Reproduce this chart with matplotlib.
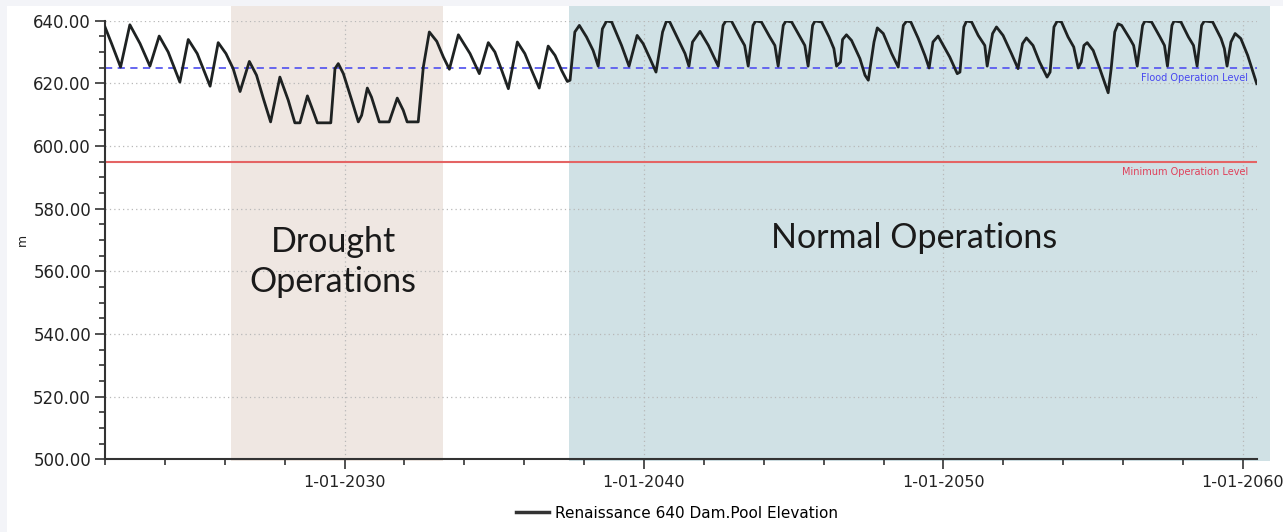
import matplotlib
matplotlib.use("Agg")
import matplotlib.pyplot as plt
from matplotlib.patches import Rectangle
from matplotlib.lines import Line2D
from matplotlib.ticker import MultipleLocator, FormatStrFormatter

# Pool elevation (decimal year, metres)
years = [
    2022.00, 2022.22, 2022.52, 2022.83, 2023.17, 2023.50, 2023.81, 2024.11, 2024.50, 2024.78,
    2025.08, 2025.51, 2025.78, 2026.04, 2026.28, 2026.51, 2026.82, 2027.06, 2027.29, 2027.53,
    2027.84, 2028.12, 2028.34, 2028.51, 2028.76, 2028.96, 2029.09, 2029.54, 2029.68, 2029.79,
    2029.96, 2030.24, 2030.46, 2030.57, 2030.76, 2030.90, 2031.16, 2031.49, 2031.76, 2031.96,
    2032.09, 2032.46, 2032.63, 2032.83, 2033.08, 2033.30, 2033.50, 2033.80, 2034.19, 2034.50,
    2034.80, 2035.02, 2035.25, 2035.47, 2035.77, 2036.02, 2036.25, 2036.50, 2036.80, 2037.03,
    2037.25, 2037.44, 2037.53, 2037.69, 2037.84, 2038.08, 2038.30, 2038.47, 2038.61, 2038.75,
    2038.92, 2039.25, 2039.50, 2039.77, 2039.97, 2040.20, 2040.40, 2040.62, 2040.75, 2040.86,
    2041.37, 2041.50, 2041.62, 2041.87, 2042.15, 2042.48, 2042.64, 2042.73, 2042.92, 2043.20,
    2043.36, 2043.48, 2043.64, 2043.73, 2043.92, 2044.20, 2044.37, 2044.48, 2044.65, 2044.74,
    2044.93, 2045.21, 2045.37, 2045.48, 2045.63, 2045.71, 2045.93, 2046.18, 2046.34, 2046.43,
    2046.56, 2046.63, 2046.76, 2046.93, 2047.21, 2047.38, 2047.49, 2047.68, 2047.79, 2047.99,
    2048.27, 2048.49, 2048.66, 2048.77, 2048.91, 2049.16, 2049.38, 2049.52, 2049.65, 2049.82,
    2050.21, 2050.46, 2050.55, 2050.68, 2050.77, 2050.94, 2051.16, 2051.38, 2051.46, 2051.64,
    2051.77, 2051.99, 2052.27, 2052.49, 2052.64, 2052.77, 2052.99, 2053.21, 2053.46, 2053.56,
    2053.69, 2053.80, 2053.94, 2054.16, 2054.35, 2054.50, 2054.60, 2054.69, 2054.80, 2055.00,
    2055.22, 2055.50, 2055.60, 2055.72, 2055.83, 2055.95, 2056.22, 2056.35, 2056.47, 2056.65,
    2056.73, 2056.95, 2057.23, 2057.38, 2057.48, 2057.63, 2057.70, 2057.93, 2058.18, 2058.35,
    2058.47, 2058.62, 2058.71, 2058.99, 2059.27, 2059.38, 2059.47, 2059.60, 2059.74, 2059.93,
    2060.16, 2060.46,
]
elevation = [
    638.0, 632.7, 625.2, 638.7, 632.7, 625.5, 635.1, 630.0, 620.4, 634.0,
    629.5, 619.1, 633.0, 629.5, 624.7, 617.4, 627.0, 622.6, 615.1, 607.7,
    622.0, 614.6, 607.4, 607.4, 616.0, 610.9, 607.4, 607.4, 624.7, 626.3,
    623.1, 614.6, 607.7, 609.8, 618.5, 615.6, 607.7, 607.7, 615.3, 611.4,
    607.7, 607.7, 625.2, 636.4, 633.4, 628.4, 624.5, 635.5, 629.5, 623.1,
    633.0, 630.0, 624.1, 618.3, 633.2, 629.5, 624.1, 618.5, 631.9, 628.9,
    624.1, 620.6, 621.0, 636.4, 638.5, 634.8, 630.5, 625.5, 637.4, 639.9,
    639.6, 632.1, 625.5, 635.3, 632.7, 627.9, 623.6, 636.4, 639.9, 639.6,
    629.5, 625.5, 633.2, 636.6, 632.1, 625.5, 638.5, 639.9, 639.9, 634.8,
    632.1, 625.5, 638.5, 639.9, 639.6, 634.8, 632.1, 625.5, 638.5, 639.9,
    639.6, 634.8, 632.1, 625.5, 638.5, 639.9, 639.6, 634.8, 631.1, 625.5,
    626.8, 634.0, 635.5, 633.7, 627.9, 622.6, 621.0, 633.2, 637.7, 635.9,
    629.5, 625.2, 638.5, 639.9, 639.6, 634.3, 628.9, 624.9, 633.2, 635.1,
    628.4, 623.1, 623.6, 638.0, 639.9, 639.6, 635.3, 632.1, 625.5, 635.9,
    638.0, 635.3, 629.5, 624.7, 632.7, 634.5, 632.1, 626.8, 622.0, 623.6,
    638.0, 639.9, 639.6, 634.8, 631.6, 624.9, 626.8, 632.1, 633.0, 630.5,
    624.7, 617.0, 624.7, 636.4, 639.0, 638.5, 634.3, 632.1, 625.5, 638.5,
    639.9, 639.6, 634.8, 632.1, 625.5, 638.5, 639.9, 639.6, 634.8, 632.1,
    625.5, 638.5, 639.9, 639.6, 634.3, 631.1, 625.5, 633.2, 635.9, 634.3,
    628.9, 619.9,
]

flood_level = 625.0
minimum_level = 595.0

# shaded operating periods
drought_period = (2026.21, 2033.30)
normal_period = (2037.49, 2060.89)

x_ticks = [2030, 2040, 2050, 2060]
x_tick_labels = ["1-01-2030", "1-01-2040", "1-01-2050", "1-01-2060"]
series_name = "Renaissance 640 Dam.Pool Elevation"

W, H = 1283, 532
fig = plt.figure(figsize=(W / 100, H / 100), dpi=100)
fig.patch.set_facecolor("#f3f4f8")
fig.add_artist(Rectangle((7 / W, 0), 1, 1 - 6 / H, transform=fig.transFigure,
                         facecolor="white", edgecolor="none", zorder=-10))

ax = fig.add_axes([105 / W, 1 - 459.3 / H, (1257 - 105) / W, 438.6 / H])

# background bands (drawn a bit past the axes like the pasted boxes)
ax.axvspan(*drought_period, ymin=-0.005, ymax=1.034, color="#efe7e2",
           zorder=0.5, clip_on=False, lw=0)
ax.axvspan(*normal_period, ymin=-0.003, ymax=1.034, color="#d0e1e5",
           zorder=0.5, clip_on=False, lw=0)

# reference levels
ax.axhline(flood_level, color="#5b5bef", lw=1.3, ls=(0, (4, 3)), zorder=2)
ax.axhline(minimum_level, color="#e46464", lw=1.5, zorder=2)
ax.text(2060.18, 621.7, "Flood Operation Level", color="#4747f0", fontsize=7,
        ha="right", va="center")
ax.text(2060.18, 591.7, "Minimum Operation Level", color="#e0405a", fontsize=7,
        ha="right", va="center")

# main series
ax.plot(years, elevation, color="#1e2222", lw=2, zorder=3)

# axes
ax.set_xlim(2022.0, 2060.47)
ax.set_ylim(500, 640)
ax.set_xticks(x_ticks)
ax.set_xticklabels(x_tick_labels)
ax.xaxis.set_minor_locator(MultipleLocator(2))
ax.yaxis.set_major_locator(MultipleLocator(20))
ax.yaxis.set_minor_locator(MultipleLocator(5))
ax.yaxis.set_major_formatter(FormatStrFormatter("%.2f"))

ax.tick_params(axis="both", which="major", length=7, width=1.2, color="#333333",
               labelsize=12, labelcolor="#222222")
ax.tick_params(axis="both", which="minor", length=4, width=1.2, color="#333333")
ax.tick_params(axis="x", pad=4, labelsize=11.5)
ax.tick_params(axis="y", pad=3)

ax.grid(True, which="major", color="#b8b8b8", ls=(0, (1, 2.5)), lw=0.9)
for side in ["top", "right"]:
    ax.spines[side].set_visible(False)
for side in ["left", "bottom"]:
    ax.spines[side].set_color("#333333")
    ax.spines[side].set_linewidth(1.5)

fig.text(22 / W, 1 - 240 / H, "m", rotation=90, fontsize=9, ha="center",
         va="center", color="#222222")

# big annotations
fig.text(333 / W, 1 - 262 / H, "Drought\nOperations", fontsize=24.5, family="Lato",
         ha="center", va="center", linespacing=1.3, color="#1a1a1a")
fig.text(914 / W, 1 - 238 / H, "Normal Operations", fontsize=24.5, family="Lato",
         ha="center", va="center", color="#1a1a1a")

# legend at the bottom
handle = Line2D([], [], color="#333333", lw=2.5)
fig.legend([handle], [series_name], loc="center left",
           bbox_to_anchor=(505 / W, 1 - 513 / H), frameon=False, fontsize=11,
           handlelength=2.2, handletextpad=0.4, borderpad=0.2)

fig.savefig("out.png", dpi=100, facecolor=fig.get_facecolor())
